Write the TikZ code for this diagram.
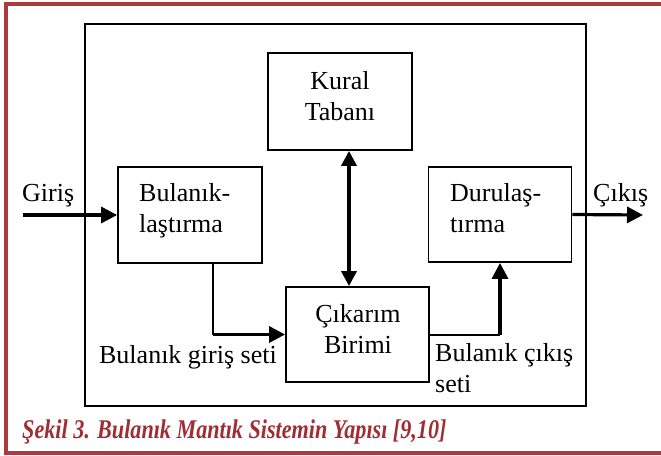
\documentclass[tikz,border=0pt]{standalone}
\usepackage{fontspec}
\setmainfont{Liberation Serif}
\usetikzlibrary{arrows.meta,calc}
\definecolor{frame}{RGB}{170,58,60}
\definecolor{capred}{RGB}{160,45,50}
\begin{document}
\begin{tikzpicture}[x=1pt,y=-1pt,
  box/.style={draw=black,line width=1.8pt,inner sep=0pt},
  lbl/.style={inner sep=0pt,font=\fontsize{26}{31}\selectfont},
  arr/.style={line width=3.2pt,-{Triangle[length=16pt,width=16pt]}},
  thinarr/.style={line width=2.2pt},
  dbl/.style={line width=3.6pt,{Triangle[length=15pt,width=15pt]}-{Triangle[length=15pt,width=15pt]}}]
\useasboundingbox (0,0) rectangle (661,455);
% red frame
\draw[frame,line width=4pt] (675,3.5) -- (5.5,3.5) -- (5.5,452.5) -- (675,452.5);
% outer box
\node[box,minimum width=501pt,minimum height=382pt] (outer) at (335.5,215) {};
% blocks
\node[box,minimum width=144pt,minimum height=97pt] (kur) at (340,101.5) {};
\node[box,minimum width=144pt,minimum height=96pt] (bul) at (190,215) {};
\node[box,minimum width=143pt,minimum height=95pt] (dur) at (500,214.5) {};
\node[box,minimum width=143pt,minimum height=95pt] (cik) at (357.5,334.5) {};
% texts
\node[lbl,anchor=base] (t1) at (340,89) {Kural};
\node[lbl,anchor=base] (t2) at (340,120) {Tabanı};
\node[lbl,anchor=base west] (t3) at (139,201) {Bulanık-};
\node[lbl,anchor=base west] (t4) at (139,232) {laştırma};
\node[lbl,anchor=base west] (t5) at (450,201) {Durulaş-};
\node[lbl,anchor=base west] (t6) at (450,232) {tırma};
\node[lbl,anchor=base] (t7) at (358,322) {Çıkarım};
\node[lbl,anchor=base] (t8) at (358,353) {Birimi};
\node[lbl,anchor=base west] (gir) at (22,201) {Giriş};
\node[lbl,anchor=base west] (cks) at (593,201) {Çıkış};
\node[lbl,anchor=base east] (bgs) at (277,363) {Bulanık giriş seti};
\node[lbl,anchor=base west] (bcs) at (435,361) {Bulanık çıkış};
\node[lbl,anchor=base west] (bcs2) at (435,392) {seti};
% connectors
\coordinate (gin) at (23,215);
\coordinate (cout) at (643,215);
\coordinate (ax) at (349,0);
\coordinate (bx) at (213,0);
\draw[arr] (gin) -- (bul.west);
\draw[arr] (dur.east) -- (cout);
\draw[dbl] (kur.south -| ax) -- (cik.north -| ax);
\draw[thinarr] (bul.south -| bx) -- (bx |- cik.west);
\draw[arr] (bx |- cik.west) -- (cik.west);
\draw[line width=2pt] (cik.east) -- (cik.east -| dur.south);
\draw[arr] (cik.east -| dur.south) -- (dur.south);
% caption
\node[inner sep=0pt,anchor=base west,text=capred] (cap) at (22,438)
  {\scalebox{0.82}[1]{\fontsize{27}{32}\selectfont\bfseries\itshape Şekil 3. Bulanık Mantık Sistemin Yapısı [9,10]}};
\end{tikzpicture}
\end{document}
